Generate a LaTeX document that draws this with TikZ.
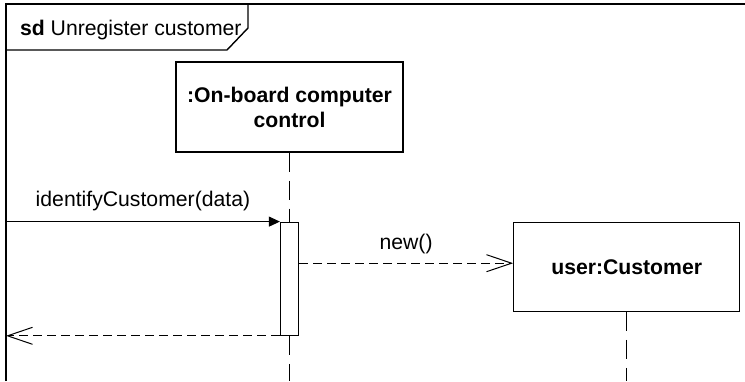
\documentclass[tikz,border=0pt]{standalone}
\usepackage{fontspec}
\setmainfont{Liberation Sans}
\usetikzlibrary{arrows.meta, positioning}
\tikzset{
  objeto/.style={rectangle, draw, fill=white, line width=0.6pt, inner sep=0pt,
    align=center, font=\fontsize{10.6}{12.5}\selectfont\bfseries},
  activacion/.style={rectangle, draw, fill=white, line width=0.6pt, inner sep=0pt,
    minimum width=9pt, minimum height=56.5pt},
  vida/.style={line width=0.5pt, dash pattern=on 9.5pt off 4.5pt},
  llamada/.style={-{Triangle[length=5.5pt, width=5pt]}, line width=0.5pt},
  mensaje/.style={-{Straight Barb[length=12.5pt, width=8.5pt]}, line width=0.5pt,
    dash pattern=on 4.5pt off 2.5pt},
  etiq/.style={font=\fontsize{10.6}{12.5}\selectfont},
  marco/.style={line width=0.7pt}
}
\begin{document}
\begin{tikzpicture}[x=0.5pt, y=-0.5pt]
  \useasboundingbox (0,0) rectangle (745,381);
  % marco del diagrama
  \draw[marco] (6,381) -- (6,4) -- (745,4);
  \draw[marco] (6,50) -- (227,50) -- (248,28) -- (248,4);
  \node[etiq, anchor=base west] (titulo) at (13,35) {\textbf{sd} Unregister customer};
  \coordinate (borde) at (6,0);
  \coordinate (fondo) at (0,381);
  % objetos
  \node[objeto, minimum width=113.5pt, minimum height=45pt] (ctrl) at (289.5,107)
    {:On-board computer\\control};
  \node[activacion, below=34.5pt of ctrl] (bar) {};
  \node[objeto, minimum width=113pt, minimum height=44.5pt,
    right=107pt of bar.north east, anchor=north west] (cust) {user:Customer};
  % lineas de vida
  \draw[vida] (ctrl) -- (bar);
  \draw[vida] (bar.south) -- (bar.south |- fondo);
  \draw[vida] (cust) -- (cust.south |- fondo);
  % mensajes
  \draw[llamada] (borde |- bar.north) -- node[etiq, above=2pt]{identifyCustomer(data)} (bar.north west);
  \path ([yshift=1.75pt]cust.west) coordinate (nuevo);
  \draw[mensaje] (bar.east |- nuevo) -- node[etiq, above=1pt]{new()} (nuevo);
  \draw[mensaje] (bar.south west) -- (borde |- bar.south);
\end{tikzpicture}
\end{document}
